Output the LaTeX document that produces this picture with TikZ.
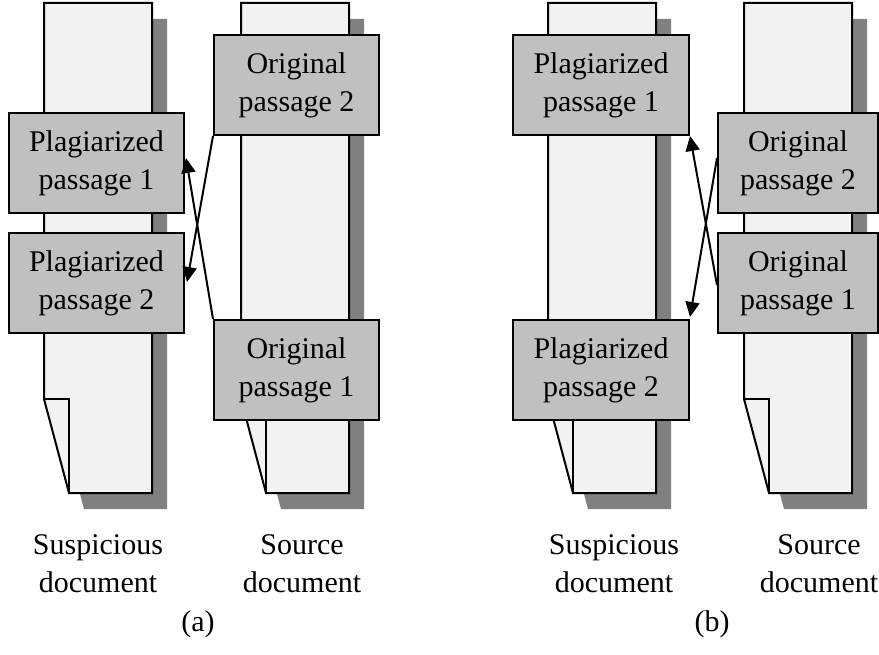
\documentclass[tikz,border=0pt]{standalone}
\usepackage{fontspec}
\setmainfont{Liberation Serif}
\usetikzlibrary{arrows.meta}
\definecolor{docfill}{RGB}{242,242,242}
\definecolor{boxfill}{RGB}{192,192,192}
\definecolor{shadowc}{RGB}{128,128,128}
\tikzset{
  passage/.style={draw=black, fill=boxfill, line width=2pt, inner sep=0pt,
    minimum height=100pt, align=center, font=\fontsize{30}{38}\selectfont},
  caption/.style={align=center, inner sep=0pt, font=\fontsize{30}{38}\selectfont},
  link/.style={line width=2pt, -{Triangle[length=15pt,width=14pt]}},
  pics/document/.style={code={
    \fill[shadowc] (15,16) -- (123,16) -- (123,506) -- (40,506) -- (15,412) -- cycle;
    \draw[line width=2pt, fill=docfill, line join=miter] (0,0) -- (108,0) -- (108,490) -- (25,490) -- (0,396) -- cycle;
    \draw[line width=2pt] (0,396) -- (25,396) -- (25,490);
  }}
}
\begin{document}
\begin{tikzpicture}[x=1pt,y=-1pt]
\useasboundingbox (0,0) rectangle (879,655);
% documents
\pic at (44,3) {document};
\pic at (241,3) {document};
\pic at (548,3) {document};
\pic at (744,3) {document};
% panel (a)
\node[passage, minimum width=175pt] (ap1) at (96.5,163) {Plagiarized\\passage 1};
\node[passage, minimum width=175pt] (ap2) at (96.5,283) {Plagiarized\\passage 2};
\node[passage, minimum width=165pt] (ao2) at (296.5,85) {Original\\passage 2};
\node[passage, minimum width=165pt] (ao1) at (296.5,370) {Original\\passage 1};
\draw[link] (ao2.south west) -- ([xshift=2pt,yshift=1pt]ap2.east);
\draw[link] (ao1.north west) -- ([xshift=1pt,yshift=5pt]ap1.east);
% panel (b)
\node[passage, minimum width=176pt] (bp1) at (601,85) {Plagiarized\\passage 1};
\node[passage, minimum width=176pt] (bp2) at (601,370) {Plagiarized\\passage 2};
\node[passage, minimum width=160pt] (bo2) at (798,163) {Original\\passage 2};
\node[passage, minimum width=160pt] (bo1) at (798,283) {Original\\passage 1};
\draw[link] ([yshift=5pt]bo2.west) -- ([yshift=2pt]bp2.north east);
\draw[link] ([yshift=-2pt]bo1.west) -- (bp1.south east);
% captions
\node[caption] (ls1) at (98,564) {Suspicious\\document};
\node[caption] (ls2) at (302,564) {Source\\document};
\node[caption] (la) at (198,624) {(a)};
\node[caption] (rs1) at (614,564) {Suspicious\\document};
\node[caption] (rs2) at (819,564) {Source\\document};
\node[caption] (lb) at (712,624) {(b)};
\end{tikzpicture}
\end{document}
